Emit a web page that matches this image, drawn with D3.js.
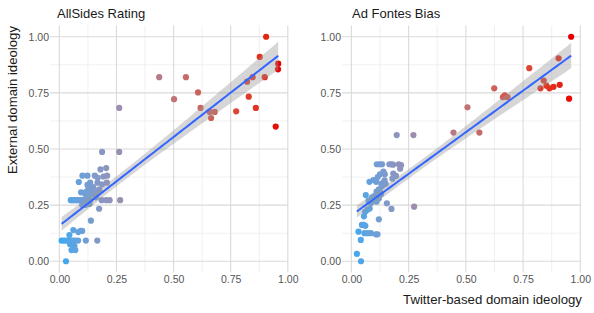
<!DOCTYPE html>
<html><head><meta charset="utf-8">
<script src="https://cdn.jsdelivr.net/npm/d3@7"></script>
<style>body{margin:0;background:#fff}svg{display:block;font-family:"Liberation Sans",Arial,sans-serif}</style>
</head><body><svg id="c" width="594" height="313"></svg>
<script>
// ---- data ----
const panelTitles = ["AllSides Rating", "Ad Fontes Bias"];
const tickValues = [0, 0.25, 0.5, 0.75, 1];
const tickLabels = ["0.00", "0.25", "0.50", "0.75", "1.00"];
const minorValues = [0.125, 0.375, 0.625, 0.875];
const yTitle = "External domain ideology";
const xTitle = "Twitter-based domain ideology";

const allsidesX = [0.905,0.877,0.958,0.957,0.437,0.554,0.846,0.899,0.822,0.607,0.502,0.829,0.618,0.86,0.262,0.658,0.68,0.664,0.774,0.947,
  0.187,0.262,0.205,0.18,0.101,0.123,0.155,0.168,0.193,0.209,0.085,0.135,0.123,0.167,0.208,0.187,
  0.128,0.148,0.137,0.155,0.118,0.143,0.165,0.175,0.095,0.113,0.13,0.16,
  0.05,0.059,0.068,0.077,0.086,0.095,0.104,0.113,0.122,0.135,0.185,0.205,0.22,0.266,
  0.1,0.113,0.132,0.122,0.174,0.138,
  0.061,0.093,0.1,0.083,0.044,0.116,0.166,
  0.01,0.02,0.03,0.04,0.05,0.06,0.07,0.082,
  0.047,0.066,0.053,0.07,0.058,0.029];
const allsidesY = [1.0,0.91,0.88,0.855,0.82,0.82,0.82,0.82,0.80,0.752,0.722,0.733,0.683,0.683,0.683,0.665,0.665,0.638,0.668,0.60,
  0.487,0.487,0.415,0.409,0.381,0.381,0.381,0.372,0.377,0.381,0.353,0.35,0.34,0.35,0.35,0.343,
  0.33,0.33,0.32,0.315,0.31,0.3,0.3,0.32,0.307,0.3,0.29,0.285,
  0.272,0.272,0.272,0.272,0.272,0.272,0.272,0.272,0.272,0.272,0.272,0.272,0.272,0.272,
  0.251,0.251,0.255,0.262,0.234,0.181,
  0.139,0.135,0.135,0.13,0.117,0.092,0.092,
  0.092,0.092,0.092,0.092,0.092,0.092,0.092,0.092,
  0.076,0.068,0.05,0.05,0.08,0.0];

const adfontesX = [0.96,0.905,0.777,0.84,0.624,0.826,0.852,0.865,0.883,0.91,0.951,0.662,0.67,0.682,0.507,0.446,0.559,0.198,0.271,0.274,
  0.111,0.124,0.134,0.166,0.176,0.182,0.207,0.217,0.213,
  0.14,0.125,0.146,0.183,0.195,0.179,0.115,0.145,0.14,0.13,0.15,0.135,
  0.079,0.096,0.108,
  0.12,0.11,0.125,0.115,0.13,0.1,0.09,0.105,0.095,0.11,0.12,0.085,0.075,0.063,0.08,0.07,0.06,0.055,
  0.155,0.175,0.12,
  0.046,0.054,0.061,0.057,0.071,0.085,0.107,0.114,0.031,0.041,0.024,0.042];
const adfontesY = [1.0,0.904,0.86,0.805,0.77,0.77,0.782,0.77,0.777,0.786,0.724,0.731,0.739,0.731,0.686,0.573,0.573,0.562,0.562,0.243,
  0.432,0.432,0.432,0.432,0.432,0.43,0.432,0.428,0.412,
  0.399,0.387,0.387,0.39,0.38,0.368,0.375,0.36,0.35,0.345,0.345,0.335,
  0.354,0.362,0.354,
  0.32,0.31,0.31,0.3,0.3,0.29,0.285,0.275,0.27,0.265,0.28,0.26,0.27,0.295,0.235,0.23,0.22,0.2,
  0.258,0.233,0.187,
  0.162,0.162,0.158,0.125,0.125,0.125,0.12,0.12,0.132,0.095,0.033,0.0];

// ---- layout ----
const svg = d3.select("#c");
const xDomain = [-0.041, 1.003], yDomain = [-0.05, 1.05];
const panels = [
  {title: panelTitles[0], xs: allsidesX, ys: allsidesY, range: [50, 288.5], title_x: 57},
  {title: panelTitles[1], xs: adfontesX, ys: adfontesY, range: [342, 581], title_x: 352}
];
const y = d3.scaleLinear().domain(yDomain).range([272.5, 25.5]);
const allX = allsidesX.concat(adfontesX);
const color = d3.scaleLinear().domain(d3.extent(allX)).range(["#38a9f0", "#e60000"]).interpolate(d3.interpolateLab);

function fit(xs, ys) {
  const n = xs.length, mx = d3.mean(xs), my = d3.mean(ys);
  let sxx = 0, sxy = 0;
  for (let i = 0; i < n; i++) { sxx += (xs[i]-mx)**2; sxy += (xs[i]-mx)*(ys[i]-my); }
  const b = sxy / sxx, a = my - b * mx;
  let sse = 0;
  for (let i = 0; i < n; i++) sse += (ys[i] - a - b*xs[i])**2;
  const df = n - 2, s = Math.sqrt(sse / df);
  const t = 1.96 + 2.37 / df;
  const [x0, x1] = d3.extent(xs);
  const pts = d3.range(81).map(i => {
    const xv = x0 + (x1 - x0) * i / 80;
    const yh = a + b * xv;
    const se = s * Math.sqrt(1/n + (xv-mx)**2 / sxx);
    return {x: xv, y: yh, lo: yh - t*se, hi: yh + t*se};
  });
  return pts;
}

panels.forEach(p => {
  const x = d3.scaleLinear().domain(xDomain).range(p.range);
  const g = svg.append("g");
  // minor grid
  g.selectAll(".mx").data(minorValues).join("line")
    .attr("x1", d => x(d)).attr("x2", d => x(d)).attr("y1", y.range()[0]).attr("y2", y.range()[1])
    .attr("stroke", "#e9e9e9").attr("stroke-width", 0.7);
  g.selectAll(".my").data(minorValues).join("line")
    .attr("y1", d => y(d)).attr("y2", d => y(d)).attr("x1", p.range[0]).attr("x2", p.range[1])
    .attr("stroke", "#e9e9e9").attr("stroke-width", 0.7);
  // major grid
  g.selectAll(".gx").data(tickValues).join("line")
    .attr("x1", d => x(d)).attr("x2", d => x(d)).attr("y1", y.range()[0]).attr("y2", y.range()[1])
    .attr("stroke", "#dadada").attr("stroke-width", 1.1);
  g.selectAll(".gy").data(tickValues).join("line")
    .attr("y1", d => y(d)).attr("y2", d => y(d)).attr("x1", p.range[0]).attr("x2", p.range[1])
    .attr("stroke", "#dadada").attr("stroke-width", 1.1);
  // axes
  const xa = d3.axisBottom(x).tickValues(tickValues).tickFormat((d, i) => tickLabels[i]).tickSize(0).tickPadding(0);
  const xg = g.append("g").attr("transform", `translate(0,${y.range()[0] + 3})`).call(xa);
  const ya = d3.axisLeft(y).tickValues(tickValues).tickFormat((d, i) => tickLabels[i]).tickSize(0).tickPadding(0);
  const yg = g.append("g").attr("transform", `translate(${p.range[0] - 1},0)`).call(ya);
  [xg, yg].forEach(a => {
    a.select(".domain").remove();
    a.selectAll("text").attr("fill", "#555").style("font-size", "10.5px").style("font-family", "'Liberation Sans',Arial,sans-serif");
  });
  xg.selectAll("text").attr("dy", "0.71em");
  // points
  const data = p.xs.map((v, i) => ({x: v, y: p.ys[i]}));
  g.selectAll("circle").data(data).join("circle")
    .attr("cx", d => x(d.x)).attr("cy", d => y(d.y)).attr("r", 3.1)
    .attr("fill", d => color(d.x));
  // smooth
  const f = fit(p.xs, p.ys);
  g.append("path").datum(f)
    .attr("d", d3.area().x(d => x(d.x)).y0(d => y(d.lo)).y1(d => y(d.hi)))
    .attr("fill", "#999").attr("fill-opacity", 0.4);
  g.append("path").datum(f)
    .attr("d", d3.line().x(d => x(d.x)).y(d => y(d.y)))
    .attr("fill", "none").attr("stroke", "#3366ff").attr("stroke-width", 2);
  // title
  svg.append("text").attr("x", p.title_x).attr("y", 18).text(p.title)
    .style("font-size", "13px").attr("fill", "#1a1a1a");
});

svg.append("text").attr("transform", "translate(17,100) rotate(-90)").attr("text-anchor", "middle")
  .text(yTitle).style("font-size", "13.2px").attr("fill", "#1a1a1a");
svg.append("text").attr("x", 492.5).attr("y", 304).attr("text-anchor", "middle")
  .text(xTitle).style("font-size", "13.2px").attr("fill", "#1a1a1a");
</script></body></html>
